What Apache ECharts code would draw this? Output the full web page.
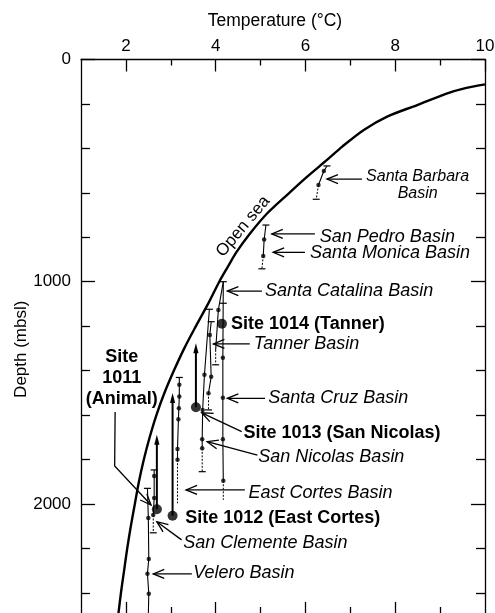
<!DOCTYPE html>
<html>
<head>
<meta charset="utf-8">
<script src="https://cdn.jsdelivr.net/npm/echarts@6/dist/echarts.min.js"></script>
<style>
html, body { margin: 0; padding: 0; background: #fff; }
#chart { width: 495px; height: 613px; }
</style>
</head>
<body>
<div id="chart"></div>
<script>
const FONT = '"Liberation Sans", Arial, Helvetica, sans-serif';

// Axis ticks
const tempMajor = [2, 4, 6, 8, 10];
const tempMinor = [3, 5, 7, 9];
const depthMajor = [0, 1000, 2000];
const depthMinor = [200, 400, 600, 800, 1200, 1400, 1600, 1800, 2200, 2400];

// Open-sea temperature profile
const openSeaDepth = [112, 132, 152, 205, 257, 317, 392, 452, 527, 602, 692, 782, 865, 940, 1000,
  1100, 1200, 1300, 1400, 1500, 1600, 1700, 1800, 1900, 2000, 2100, 2200, 2300, 2400, 2500];
const openSeaTemp = [10.0, 9.5, 9.16, 8.49, 7.82, 7.30, 6.82, 6.48, 6.04, 5.63, 5.15, 4.77, 4.47, 4.25, 4.08,
  3.83, 3.56, 3.30, 3.07, 2.86, 2.68, 2.53, 2.40, 2.29, 2.20, 2.11, 2.03, 1.96, 1.89, 1.83];

// Basin profiles [°C, m]: measured part, extrapolated tail, data points, sill/bottom caps
const santaBarbara = {
  line: [[6.48, 479], [6.41, 502], [6.29, 565]],
  tail: [[6.29, 565], [6.24, 629]],
  dots: [[6.41, 502], [6.29, 565]],
  caps: [[6.48, 479], [6.24, 629]]
};
const sanPedroMonica = {
  line: [[5.12, 745], [5.08, 810], [5.06, 884]],
  tail: [[5.06, 884], [5.03, 942]],
  dots: [[5.08, 810], [5.06, 884]],
  caps: [[5.12, 745], [5.03, 942]]
};
const catalinaCruz = {
  line: [[4.17, 1000], [4.16, 1342], [4.16, 1522], [4.16, 1709], [4.17, 1896]],
  tail: [[4.17, 1896], [4.17, 1982]],
  dots: [[4.16, 1342], [4.16, 1522], [4.16, 1709], [4.17, 1896]],
  caps: [[4.17, 1000], [4.17, 1097]]
};
const tanner = {
  line: [[4.17, 1000], [4.06, 1127], [4.00, 1307]],
  tail: [[4.00, 1307], [4.00, 1374]],
  dots: [[4.06, 1127]],
  caps: [[4.00, 1374]]
};
const tannerDeep = {
  line: [[3.90, 1180], [3.87, 1240], [3.90, 1428], [3.84, 1502]],
  tail: [[3.84, 1502], [3.84, 1577]],
  dots: [[3.87, 1240], [3.90, 1428], [3.84, 1502]],
  caps: [[3.90, 1180], [3.84, 1577]]
};
const sanNicolas = {
  line: [[3.86, 1124], [3.75, 1419], [3.71, 1577], [3.70, 1709], [3.70, 1750]],
  tail: [[3.70, 1750], [3.70, 1855]],
  dots: [[3.75, 1419], [3.71, 1577], [3.70, 1709], [3.70, 1750]],
  caps: [[3.86, 1124], [3.70, 1855]]
};
const eastCortes = {
  line: [[3.19, 1431], [3.19, 1464], [3.19, 1517], [3.18, 1569], [3.17, 1619], [3.15, 1753], [3.15, 1801]],
  tail: [[3.15, 1801], [3.15, 1997]],
  dots: [[3.19, 1464], [3.19, 1517], [3.18, 1569], [3.17, 1619], [3.15, 1753], [3.15, 1801]],
  caps: [[3.19, 1431]]
};
const sanClemente = {
  line: [[2.63, 1847], [2.63, 1874], [2.63, 1974], [2.61, 2050]],
  tail: [[2.61, 2050], [2.61, 2130]],
  dots: [[2.63, 1874], [2.63, 1974], [2.61, 2050]],
  caps: [[2.63, 1847], [2.61, 2130]]
};
const velero = {
  line: [[2.48, 1930], [2.50, 2064], [2.51, 2248], [2.48, 2314], [2.51, 2404], [2.50, 2500]],
  tail: [],
  dots: [[2.50, 2064], [2.51, 2248], [2.48, 2314], [2.51, 2404]],
  caps: [[2.48, 1930]]
};
const basins = [santaBarbara, sanPedroMonica, catalinaCruz, tanner, tannerDeep,
  sanNicolas, eastCortes, sanClemente, velero];

// ODP sites: bottom-water temperature and depth; arrow tops mark the sill depth
const siteNames = ['Site 1011', 'Site 1012', 'Site 1013', 'Site 1014'];
const siteTemp = [2.69, 3.04, 3.56, 4.14];
const siteDepth = [2024, 2053, 1565, 1189];
const siteSill = [1689, 1501, 1277, null];

// Text labels: [°C, m] anchor, text, kind
const labels = [
  [8.50, 566, 'Santa Barbara\nBasin', 'small'],
  [6.32, 797, 'San Pedro Basin', 'basin'],
  [6.10, 869, 'Santa Monica Basin', 'basin'],
  [5.10, 1042, 'Santa Catalina Basin', 'basin'],
  [4.34, 1192, 'Site 1014 (Tanner)', 'site'],
  [4.85, 1280, 'Tanner Basin', 'basin'],
  [5.17, 1522, 'Santa Cruz Basin', 'basin'],
  [4.62, 1682, 'Site 1013 (San Nicolas)', 'site'],
  [4.95, 1788, 'San Nicolas Basin', 'basin'],
  [4.73, 1952, 'East Cortes Basin', 'basin'],
  [3.32, 2065, 'Site 1012 (East Cortes)', 'site'],
  [3.28, 2177, 'San Clemente Basin', 'basin'],
  [3.50, 2312, 'Velero Basin', 'basin'],
  [1.91, 1432, 'Site\n1011\n(Animal)', 'siteBlock'],
  [4.61, 752, 'Open sea', 'curve']
];

// Pointer lines from labels to profiles, last point is the arrow tip
const pointers = [
  [[7.26, 538], [6.48, 538]],
  [[6.21, 785], [5.25, 785]],
  [[5.99, 868], [5.28, 868]],
  [[5.03, 1042], [4.26, 1042]],
  [[4.76, 1280], [3.95, 1280]],
  [[5.10, 1525], [4.26, 1525]],
  [[4.58, 1675], [3.69, 1590]],
  [[4.93, 1780], [3.81, 1720]],
  [[4.65, 1937], [3.34, 1937]],
  [[3.24, 2162], [2.69, 2080]],
  [[3.47, 2315], [2.61, 2315]],
  [[1.76, 1586], [1.75, 1829], [2.56, 2005]]
];

function arrowV(tip, from, len, half) {
  const dx = tip[0] - from[0], dy = tip[1] - from[1];
  const L = Math.hypot(dx, dy) || 1;
  const ux = dx / L, uy = dy / L;
  const bx = tip[0] - ux * len, by = tip[1] - uy * len;
  return [[bx - uy * half, by + ux * half], tip, [bx + uy * half, by - ux * half]];
}

const series = [];

// Open-sea curve
series.push({
  type: 'line', xAxisIndex: 0, yAxisIndex: 0,
  data: openSeaTemp.map((t, i) => [t, openSeaDepth[i]]),
  symbol: 'none', smooth: 0.3, silent: true,
  lineStyle: { color: '#000', width: 2.4 }, z: 3
});

// Basin profiles
basins.forEach(b => {
  series.push({
    type: 'line', data: b.line, symbol: 'none', silent: true,
    lineStyle: { color: '#000', width: 1.1 }, z: 3
  });
  if (b.tail.length) {
    series.push({
      type: 'line', data: b.tail, symbol: 'none', silent: true,
      lineStyle: { color: '#000', width: 1, type: [2, 1.5] }, z: 3
    });
  }
});

series.push({
  type: 'scatter', silent: true, z: 4,
  data: basins.flatMap(b => b.dots),
  symbol: 'circle', symbolSize: 4.5,
  itemStyle: { color: '#000' }
});

series.push({
  type: 'custom', silent: true, z: 4,
  data: basins.flatMap(b => b.caps),
  renderItem(params, api) {
    const p = api.coord([api.value(0), api.value(1)]);
    return {
      type: 'line',
      shape: { x1: p[0] - 3.5, y1: p[1], x2: p[0] + 3.5, y2: p[1] },
      style: { stroke: '#000', lineWidth: 1.2 }
    };
  }
});

// Site sill arrows and markers
series.push({
  type: 'custom', silent: true, z: 4,
  data: siteTemp.map((t, i) => [t, siteDepth[i], i]).filter((d, i) => siteSill[i] != null),
  renderItem(params, api) {
    const i = api.value(2);
    const base = api.coord([siteTemp[i], siteDepth[i]]);
    const top = api.coord([siteTemp[i], siteSill[i]]);
    return {
      type: 'group',
      children: [
        { type: 'line', shape: { x1: base[0], y1: base[1], x2: top[0], y2: top[1] + 8 },
          style: { stroke: '#000', lineWidth: 2 } },
        { type: 'polygon', shape: { points: [[top[0], top[1]], [top[0] - 2.6, top[1] + 10], [top[0] + 2.6, top[1] + 10]] },
          style: { fill: '#000' } }
      ]
    };
  }
});

series.push({
  type: 'scatter', silent: true, z: 5,
  data: siteTemp.map((t, i) => [t, siteDepth[i]]),
  symbol: 'circle', symbolSize: 10,
  itemStyle: { color: '#000' }
});

// Pointer arrows
series.push({
  type: 'custom', silent: true, z: 5,
  data: pointers.map((p, i) => [p[0][0], p[0][1], i]),
  renderItem(params, api) {
    const pts = pointers[api.value(2)].map(p => api.coord(p));
    const tip = pts[pts.length - 1], prev = pts[pts.length - 2];
    return {
      type: 'group',
      children: [
        { type: 'polyline', shape: { points: pts }, style: { stroke: '#000', lineWidth: 1.3, fill: null } },
        { type: 'polyline', shape: { points: arrowV(tip, prev, 11, 4.5) }, style: { stroke: '#000', lineWidth: 1.3, fill: null } }
      ]
    };
  }
});

// Labels
const labelStyles = {
  small: { fontSize: 16, fontStyle: 'italic', fontWeight: 'normal', align: 'center', lineHeight: 17 },
  basin: { fontSize: 18, fontStyle: 'italic', fontWeight: 'normal', align: 'left', lineHeight: 20 },
  site: { fontSize: 18, fontStyle: 'normal', fontWeight: 'bold', align: 'left', lineHeight: 20 },
  siteBlock: { fontSize: 18, fontStyle: 'normal', fontWeight: 'bold', align: 'center', lineHeight: 21 },
  curve: { fontSize: 17, fontStyle: 'normal', fontWeight: 'normal', align: 'center', lineHeight: 18 }
};
series.push({
  type: 'custom', silent: true, z: 6,
  data: labels.map((l, i) => [l[0], l[1], i]),
  renderItem(params, api) {
    const l = labels[api.value(2)];
    const s = labelStyles[l[3]];
    const p = api.coord([l[0], l[1]]);
    return {
      type: 'text',
      x: p[0], y: p[1],
      rotation: l[3] === 'curve' ? 50 * Math.PI / 180 : 0,
      style: {
        text: l[2], fill: '#000', fontFamily: FONT,
        fontSize: s.fontSize, fontStyle: s.fontStyle, fontWeight: s.fontWeight,
        lineHeight: s.lineHeight, align: s.align, verticalAlign: 'middle'
      }
    };
  }
});

const axisTextStyle = { color: '#000', fontSize: 17, fontFamily: FONT };
const tickLine = { color: '#000', width: 1.3 };

function tempAxis(position, ticks, len, withLine, withLabel) {
  return {
    type: 'value', position, min: 1, max: 10,
    axisLine: { show: withLine, onZero: false, lineStyle: tickLine },
    axisTick: { show: true, inside: true, length: len, customValues: ticks, lineStyle: tickLine },
    axisLabel: withLabel ? Object.assign({ customValues: tempMajor, margin: 5, formatter: v => String(v) }, axisTextStyle) : { show: false },
    splitLine: { show: false }
  };
}
function depthAxis(position, ticks, len, withLine, withLabel) {
  return {
    type: 'value', position, min: 0, max: 2500, inverse: true,
    axisLine: { show: withLine, onZero: false, lineStyle: tickLine },
    axisTick: { show: true, inside: true, length: len, customValues: ticks, lineStyle: tickLine },
    axisLabel: withLabel ? Object.assign({ customValues: depthMajor, margin: 10, formatter: v => String(v) }, axisTextStyle) : { show: false },
    splitLine: { show: false }
  };
}

const xTop = tempAxis('top', tempMajor, 12, true, true);
xTop.name = 'Temperature (°C)';
xTop.nameLocation = 'middle';
xTop.nameGap = 29;
xTop.nameMoveOverlap = false;
xTop.nameTextStyle = Object.assign({}, axisTextStyle, { fontSize: 17.5, padding: [0, 16, 0, 0] });

const yLeft = depthAxis('left', depthMajor, 14, true, true);
yLeft.name = 'Depth (mbsl)';
yLeft.nameLocation = 'middle';
yLeft.nameGap = 51;
yLeft.nameMoveOverlap = false;
yLeft.nameTextStyle = Object.assign({}, axisTextStyle, { padding: [0, 24, 0, 0] });

const chart = echarts.init(document.getElementById('chart'), null, { renderer: 'canvas' });
chart.setOption({
  animation: false,
  backgroundColor: '#fff',
  grid: { left: 81, right: 10, top: 59.5, bottom: -2, containLabel: false, outerBoundsMode: 'none' },
  xAxis: [
    xTop,
    tempAxis('top', tempMinor, 6, false, false),
    tempAxis('bottom', [2, 4, 6, 8], 13, true, false),
    tempAxis('bottom', tempMinor, 8, false, false)
  ],
  yAxis: [
    yLeft,
    depthAxis('left', depthMinor, 9, false, false),
    depthAxis('right', depthMajor, 14, true, false),
    depthAxis('right', depthMinor, 9, false, false)
  ],
  series
});
</script>
</body>
</html>
